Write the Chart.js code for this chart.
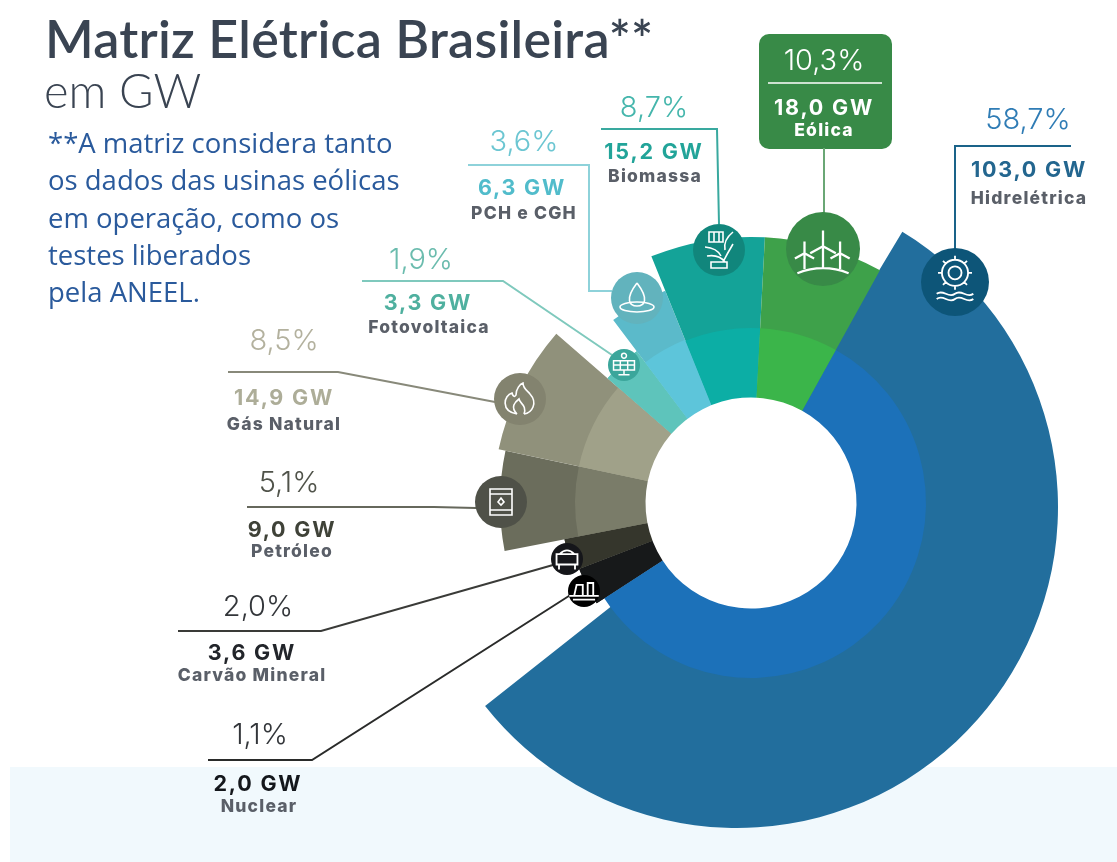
<!DOCTYPE html>
<html lang="pt-BR">
<head>
<meta charset="utf-8">
<title>Matriz Elétrica Brasileira</title>
<script src="https://cdn.jsdelivr.net/npm/chart.js@4/dist/chart.umd.min.js"></script>
<style>
    html, body { margin: 0; padding: 0; background: #fff; }
    #pagina { position: relative; width: 1117px; height: 862px; overflow: hidden; font-family: Lato, sans-serif; }
    #faixa { position: absolute; left: 10px; top: 767px; width: 1107px; height: 95px; background: #f1f9fd; }
    #grafico { position: absolute; left: 0; top: 0; }
    #titulo { position: absolute; left: 45px; top: 7px; font-size: 52px; font-weight: 600; letter-spacing: 0.25px; color: #3a4452; white-space: nowrap; }
    #subtitulo { position: absolute; left: 44px; top: 62px; font-size: 47px; font-weight: 300; color: #3a4452; white-space: nowrap; }
    #nota { position: absolute; left: 48px; top: 124px; font-family: "Open Sans", sans-serif; font-size: 27.5px; line-height: 37.3px; color: #2a5a9c; white-space: nowrap; }
    .pct { position: absolute; font-family: Inter, sans-serif; font-size: 29px; font-weight: 300; transform: translateX(-50%); margin-top: -1px; white-space: nowrap; }
    .gw { position: absolute; font-family: Inter, sans-serif; font-size: 21.5px; font-weight: 700; letter-spacing: 1.8px; transform: translateX(-50%); white-space: nowrap; }
    .nome { position: absolute; font-family: Inter, sans-serif; font-size: 17.5px; font-weight: 800; letter-spacing: 1.2px; color: #5a5f68; transform: translateX(-50%); white-space: nowrap; }
</style>
</head>
<body>
<div id="pagina">
    <div id="faixa"></div>
    <canvas id="grafico" width="1117" height="862"></canvas>
    <div id="titulo">Matriz Elétrica Brasileira**</div>
    <div id="subtitulo">em GW</div>
    <div id="nota">**A matriz considera tanto<br>os dados das usinas eólicas<br>em operação, como os<br>testes liberados<br>pela ANEEL.</div>
</div>
<script>
// dados
const fontes = ['Hidrelétrica', 'Nuclear', 'Carvão Mineral', 'Petróleo', 'Gás Natural', 'Fotovoltaica', 'PCH e CGH', 'Biomassa', 'Eólica'];
const percentuais = ['58,7%', '1,1%', '2,0%', '5,1%', '8,5%', '1,9%', '3,6%', '8,7%', '10,3%'];
const potenciaGW = ['103,0 GW', '2,0 GW', '3,6 GW', '9,0 GW', '14,9 GW', '3,3 GW', '6,3 GW', '15,2 GW', '18,0 GW'];
const angulos = [208, 12, 10, 23, 29, 12, 15, 25, 26];
const raioExterno = [0, 184, 190, 251, 258, 190, 229, 266, 266];
const raioInterno = [175, 184, 190, 176, 176, 190, 176, 175, 175];
const raioHidro = [0, 321];
const angulosHidro = [2, 200.7];
const raioFuro = [105.5];

const coresExternas = ['#226e9d', '#17191a', '#35352b', '#6b6d5c', '#90917b', '#5ec4bb', '#5bbaca', '#14a398', '#3ea14a'];
const coresInternas = ['#1c71b9', '#17191a', '#35362c', '#7a7c69', '#a0a189', '#5ec4bb', '#5dc5da', '#0caea5', '#3bb54a'];
const coresHidro = ['#226e9d', '#226e9d'];

// posicao dos rotulos e icones na pagina
const rotulos = [
    { pct: [1028, 102], gw: [1029, 156], nome: [1029, 187], cor: '#2f7cb5', corGw: '#23668f' },
    { pct: [260, 717], gw: [258, 770], nome: [259, 795], cor: '#33363a', corGw: '#14171c' },
    { pct: [258, 589], gw: [252, 639], nome: [252, 664], cor: '#33363a', corGw: '#22252a' },
    { pct: [289, 465], gw: [292, 516], nome: [292, 540], cor: '#50534a', corGw: '#3f4238' },
    { pct: [284, 323], gw: [284, 384], nome: [284, 413], cor: '#b3b19e', corGw: '#adad98' },
    { pct: [421, 242], gw: [428, 289], nome: [429, 316], cor: '#6bbcae', corGw: '#4fb09f' },
    { pct: [524, 124], gw: [522, 174], nome: [524, 202], cor: '#6cc6d2', corGw: '#51bccb' },
    { pct: [654, 90], gw: [654, 138], nome: [655, 165], cor: '#45b6ac', corGw: '#22a499' },
    { pct: [824, 43], gw: [824, 94], nome: [824, 119], cor: '#ffffff', corGw: '#ffffff' }
];
const linhas = [
    { pts: [[1071, 146], [955, 146], [955, 250]], cor: '#1a6389' },
    { pts: [[208, 760], [312, 760], [572, 594]], cor: '#2a2b2a' },
    { pts: [[178, 631], [321, 631], [553, 565]], cor: '#3a3b38' },
    { pts: [[247, 507], [434, 507], [476, 508]], cor: '#66685c' },
    { pts: [[228, 372], [338, 372], [495, 402]], cor: '#88897a' },
    { pts: [[362, 281], [503, 281], [612, 355]], cor: '#7fc9bd' },
    { pts: [[468, 165], [589, 165], [589, 291], [612, 291]], cor: '#8ed2da' },
    { pts: [[601, 129], [717, 129], [719, 224]], cor: '#39a99f' },
    { pts: [[824, 148], [824, 213]], cor: '#6aa775' }
];
const icones = [
    { x: 955, y: 282, r: 34, cor: '#0d5578', tipo: 'hidro' },
    { x: 584, y: 591, r: 16, cor: '#000000', tipo: 'nuclear' },
    { x: 567, y: 559, r: 16, cor: '#15161a', tipo: 'carvao' },
    { x: 501, y: 502, r: 26, cor: '#4f5148', tipo: 'petroleo' },
    { x: 520, y: 399, r: 26, cor: '#83836f', tipo: 'gas' },
    { x: 624, y: 365, r: 16, cor: '#3ba69b', tipo: 'solar' },
    { x: 637, y: 298, r: 26, cor: '#62b3bd', tipo: 'gota' },
    { x: 719, y: 250, r: 26, cor: '#11867c', tipo: 'bio' },
    { x: 823, y: 249, r: 37, cor: '#388a47', tipo: 'vento' }
];

const pagina = document.getElementById('pagina');
const criarTexto = (classe, texto, pos, cor) => {
    const el = document.createElement('div');
    el.className = classe;
    el.textContent = texto;
    el.style.left = pos[0] + 'px';
    el.style.top = pos[1] + 'px';
    if (cor) el.style.color = cor;
    pagina.appendChild(el);
};
fontes.forEach((f, i) => {
    const r = rotulos[i];
    criarTexto('pct', percentuais[i], r.pct, r.cor);
    criarTexto('gw', potenciaGW[i], r.gw, r.corGw);
    criarTexto('nome', f, r.nome, i === 8 ? '#ffffff' : null);
});

const desenharGlifo = (ctx, ic) => {
    const s = ic.r / 26;
    ctx.save();
    ctx.translate(ic.x, ic.y);
    ctx.scale(s, s);
    ctx.strokeStyle = '#fff';
    ctx.lineWidth = 1.6;
    ctx.beginPath();
    if (ic.tipo === 'gota') {
        ctx.moveTo(0, -15);
        ctx.bezierCurveTo(-13, 2, -7, 8, 0, 8);
        ctx.bezierCurveTo(7, 8, 13, 2, 0, -15);
        ctx.moveTo(17, 9);
        ctx.ellipse(0, 9, 17, 5, 0, 0, Math.PI * 2);
    } else if (ic.tipo === 'gas') {
        ctx.moveTo(-3, 15);
        ctx.bezierCurveTo(-20, 12, -16, -4, -8, -6);
        ctx.bezierCurveTo(-7, -2, -5, -2, -4, -4);
        ctx.bezierCurveTo(-4, -10, 0, -15, 3, -16);
        ctx.bezierCurveTo(3, -10, 8, -8, 10, -5);
        ctx.bezierCurveTo(18, 4, 12, 14, 4, 15);
        ctx.moveTo(-3, 15);
        ctx.bezierCurveTo(-10, 8, -5, 3, -1, 0);
        ctx.bezierCurveTo(0, 5, 7, 6, 4, 15);
    } else if (ic.tipo === 'petroleo') {
        ctx.rect(-11, -13, 22, 26);
        ctx.moveTo(-11, -8); ctx.lineTo(11, -8);
        ctx.moveTo(-11, 8); ctx.lineTo(11, 8);
        ctx.moveTo(-3, 0); ctx.lineTo(0, -4); ctx.lineTo(3, 0); ctx.lineTo(0, 3); ctx.closePath();
    } else if (ic.tipo === 'carvao') {
        ctx.lineWidth = 3;
        ctx.rect(-17, -8, 34, 17);
        ctx.moveTo(-13, 9); ctx.lineTo(-13, 17);
        ctx.moveTo(13, 9); ctx.lineTo(13, 17);
        ctx.moveTo(-12, -8); ctx.quadraticCurveTo(0, -20, 12, -8);
    } else if (ic.tipo === 'nuclear') {
        ctx.lineWidth = 3;
        ctx.moveTo(-24, 8); ctx.lineTo(24, 8);
        ctx.moveTo(-16, 8); ctx.lineTo(-12, -10); ctx.lineTo(-2, -10); ctx.lineTo(-2, 8);
        ctx.moveTo(6, 8); ctx.lineTo(6, -13); ctx.lineTo(15, -13); ctx.lineTo(15, 8);
        ctx.moveTo(-18, 14); ctx.lineTo(18, 14);
    } else if (ic.tipo === 'solar') {
        ctx.lineWidth = 2.4;
        ctx.rect(-17, -7, 34, 15);
        ctx.moveTo(-6, -7); ctx.lineTo(-6, 8);
        ctx.moveTo(6, -7); ctx.lineTo(6, 8);
        ctx.moveTo(-17, 0); ctx.lineTo(17, 0);
        ctx.moveTo(0, 8); ctx.lineTo(0, 15);
        ctx.moveTo(-9, 16); ctx.lineTo(9, 16);
        ctx.moveTo(4, -15);
        ctx.arc(0, -15, 4, 0, Math.PI * 2);
    } else if (ic.tipo === 'bio') {
        ctx.rect(-10, -18, 14, 10);
        ctx.moveTo(-5, -18); ctx.lineTo(-5, -8);
        ctx.moveTo(0, -18); ctx.lineTo(0, -8);
        ctx.moveTo(14, -18); ctx.quadraticCurveTo(4, -10, 6, 0);
        ctx.moveTo(-14, -3); ctx.quadraticCurveTo(-2, -2, 2, 6);
        ctx.moveTo(-12, 6); ctx.quadraticCurveTo(0, 4, 6, 12);
        ctx.moveTo(14, -6); ctx.quadraticCurveTo(8, 4, 4, 12);
        ctx.rect(-8, 12, 16, 6);
    } else if (ic.tipo === 'vento') {
        [[0, -2, 1], [-13, 3, 0.75], [12, 3, 0.75]].forEach(([x, y, k]) => {
            ctx.moveTo(x, y); ctx.lineTo(x, 14);
            ctx.moveTo(x, y); ctx.lineTo(x, y - 11 * k);
            ctx.moveTo(x, y); ctx.lineTo(x - 9 * k, y + 5 * k);
            ctx.moveTo(x, y); ctx.lineTo(x + 9 * k, y + 5 * k);
        });
        ctx.moveTo(-18, 17);
        ctx.quadraticCurveTo(0, 10, 18, 17);
    } else if (ic.tipo === 'hidro') {
        ctx.lineWidth = 1.4;
        ctx.moveTo(10, -7);
        ctx.arc(0, -7, 10, 0, Math.PI * 2);
        ctx.moveTo(5, -7);
        ctx.arc(0, -7, 5, 0, Math.PI * 2);
        for (let a = 0; a < 8; a++) {
            const t = a * Math.PI / 4;
            ctx.moveTo(10 * Math.cos(t), -7 + 10 * Math.sin(t));
            ctx.lineTo(13 * Math.cos(t), -7 + 13 * Math.sin(t));
        }
        [9, 13].forEach(y => {
            ctx.moveTo(-14, y);
            ctx.bezierCurveTo(-9, y - 4, -5, y + 4, 0, y);
            ctx.bezierCurveTo(5, y - 4, 9, y + 4, 14, y);
        });
    }
    ctx.stroke();
    ctx.restore();
};

// linhas de chamada, caixa da eolica e icones por cima das fatias
const extras = {
    id: 'extras',
    beforeDatasetDraw(chart, args) {
        // a fatia hidro externa nao e concentrica com o furo
        if (args.index === 3) {
            chart.ctx.save();
            chart.ctx.translate(-14, 4);
        }
    },
    afterDatasetDraw(chart, args) {
        if (args.index === 3) chart.ctx.restore();
    },
    afterDatasetsDraw(chart) {
        const ctx = chart.ctx;
        ctx.save();
        ctx.fillStyle = '#388a47';
        ctx.beginPath();
        ctx.roundRect(759, 34, 133, 115, 10);
        ctx.fill();
        ctx.strokeStyle = '#fff';
        ctx.lineWidth = 1.5;
        ctx.beginPath();
        ctx.moveTo(768, 83);
        ctx.lineTo(882, 83);
        ctx.stroke();
        linhas.forEach(l => {
            ctx.strokeStyle = l.cor;
            ctx.lineWidth = 2;
            ctx.beginPath();
            l.pts.forEach((p, i) => i ? ctx.lineTo(p[0], p[1]) : ctx.moveTo(p[0], p[1]));
            ctx.stroke();
        });
        icones.forEach(ic => {
            ctx.fillStyle = ic.cor;
            ctx.beginPath();
            ctx.arc(ic.x, ic.y, ic.r, 0, Math.PI * 2);
            ctx.fill();
            desenharGlifo(ctx, ic);
        });
        ctx.restore();
    }
};

new Chart(document.getElementById('grafico'), {
    type: 'polarArea',
    data: {
        labels: fontes,
        datasets: [
            { data: raioFuro, backgroundColor: ['#ffffff'], angle: 360, borderWidth: 0 },
            { data: raioInterno, backgroundColor: coresInternas, angle: angulos, borderWidth: 0 },
            { data: raioExterno, backgroundColor: coresExternas, angle: angulos, borderWidth: 0 },
            { data: raioHidro, backgroundColor: coresHidro, angle: angulosHidro, borderWidth: 0 }
        ]
    },
    options: {
        responsive: false,
        animation: false,
        layout: { padding: { left: 411, right: 26, top: 163, bottom: 19 } },
        plugins: { legend: { display: false }, tooltip: { enabled: false } },
        scales: {
            r: {
                display: false,
                min: 0,
                max: 340,
                startAngle: 29
            }
        }
    },
    plugins: [extras]
});
</script>
</body>
</html>
